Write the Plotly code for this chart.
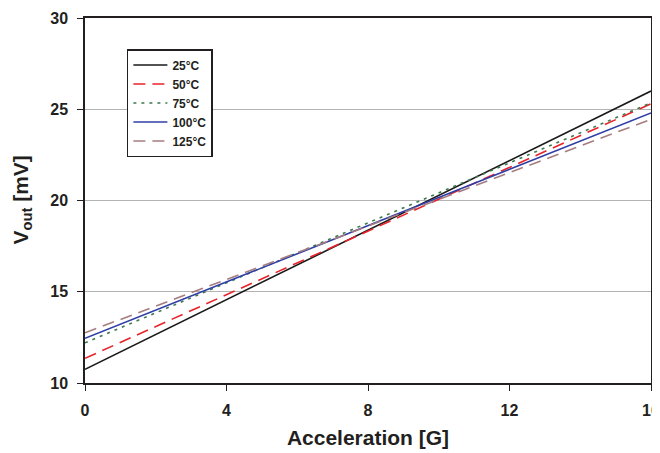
import plotly.graph_objects as go

accel = [0, 16]
series_names = ["25°C", "50°C", "75°C", "100°C", "125°C"]
v_25 = [10.75, 26.0]
v_50 = [11.35, 25.3]
v_75 = [12.2, 25.35]
v_100 = [12.45, 24.8]
v_125 = [12.75, 24.45]
x_ticks = [0, 4, 8, 12, 16]
y_ticks = [10, 15, 20, 25, 30]

series_values = [v_25, v_50, v_75, v_100, v_125]
colors = ["#1a1a1a", "#e8232a", "#3d7a4e", "#2f3ea6", "#a57d80"]
dashes = ["solid", "12px,7px", "3px,5px", "solid", "12px,7px"]

fig = go.Figure()
for name, vals, c, d in zip(series_names, series_values, colors, dashes):
    fig.add_trace(go.Scatter(x=accel, y=vals, mode="lines", name=name,
                             line=dict(color=c, width=1.6, dash=d)))

font = dict(family="Liberation Sans, Arial, sans-serif", color="#231f20")

# page body has an 8px default margin, so the figure is sized to 652x445
fig.update_layout(
    width=652, height=445,
    margin=dict(l=77, r=9, t=10, b=70),
    plot_bgcolor="white", paper_bgcolor="white",
    showlegend=True,
    legend=dict(x=0.074, y=0.915, xanchor="left", yanchor="top",
                bgcolor="white", bordercolor="#231f20", borderwidth=1.5,
                font=dict(family=font["family"], size=12, color="#231f20", weight="bold"),
                tracegroupgap=0, itemwidth=34),
    xaxis=dict(range=[0, 16], tickvals=x_ticks, ticks="outside", ticklen=6,
               tickcolor="#231f20", showline=True, linecolor="#231f20", linewidth=1.5,
               mirror=True, showgrid=False, zeroline=False, automargin=False,
               ticklabelstandoff=6,
               tickfont=dict(family=font["family"], size=16, color="#231f20", weight="bold"),
               title=dict(text="Acceleration [G]", standoff=12,
                          font=dict(family=font["family"], size=21, color="#231f20", weight="bold"))),
    yaxis=dict(range=[10, 30], tickvals=y_ticks, ticks="outside", ticklen=6,
               tickcolor="#231f20", showline=True, linecolor="#231f20", linewidth=1.5,
               mirror=True, showgrid=True, gridcolor="#b3b3b3", gridwidth=1, zeroline=False,
               automargin=False, ticklabelstandoff=6,
               tickfont=dict(family=font["family"], size=16, color="#231f20", weight="bold")),
    annotations=[dict(text="V<sub>out</sub> [mV]", textangle=-90, xref="paper", yref="paper",
                      x=-0.113, y=0.5, xanchor="center", yanchor="middle", showarrow=False,
                      font=dict(family=font["family"], size=21, color="#231f20", weight="bold"))],
)

fig.write_html("out.html")
